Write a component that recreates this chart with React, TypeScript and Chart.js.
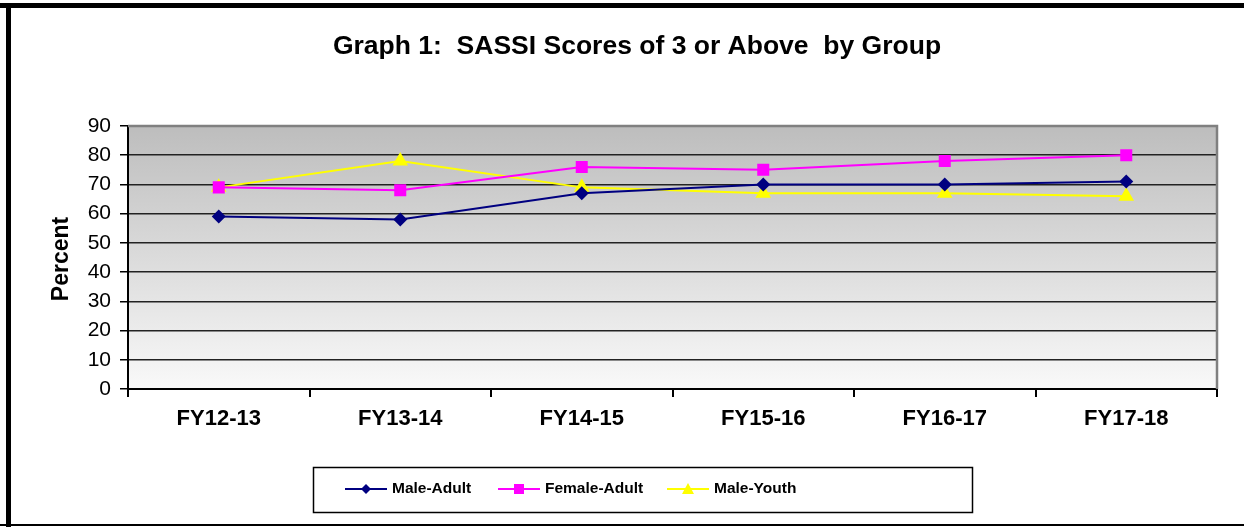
import React, { useEffect, useRef } from "react";
import { Chart, registerables } from "chart.js";

Chart.register(...registerables);

const categories = ["FY12-13", "FY13-14", "FY14-15", "FY15-16", "FY16-17", "FY17-18"];
const maleAdult = [59, 58, 67, 70, 70, 71];
const femaleAdult = [69, 68, 76, 75, 78, 80];
const maleYouth = [69, 78, 69, 67, 67, 66];
const titleText = "Graph 1:  SASSI Scores of 3 or Above  by Group";
const yTitle = "Percent";

const W = 1244;
const H = 527;
const FONT = "'Liberation Sans', Arial, sans-serif";

const decor = {
  id: "decor",
  beforeDraw(chart: any) {
    const { ctx, chartArea: a } = chart;
    ctx.save();
    ctx.fillStyle = "#ffffff";
    ctx.fillRect(0, 0, W, H);
    const g = ctx.createLinearGradient(0, a.top, 0, a.bottom);
    g.addColorStop(0, "#bdbdbd");
    g.addColorStop(1, "#f9f9f9");
    ctx.fillStyle = g;
    ctx.fillRect(a.left, a.top, a.right - a.left, a.bottom - a.top);
    ctx.restore();
  },
  afterDraw(chart: any) {
    const { ctx, chartArea: a } = chart;
    ctx.save();
    ctx.strokeStyle = "#808080";
    ctx.lineWidth = 2.5;
    ctx.beginPath();
    ctx.moveTo(a.left, a.top);
    ctx.lineTo(a.right, a.top);
    ctx.lineTo(a.right, a.bottom);
    ctx.stroke();
    ctx.fillStyle = "#000";
    ctx.fillRect(0, 3, W, 5);
    ctx.fillRect(6, 3, 5, H - 3);
    ctx.fillRect(0, 524, W, 2);
    ctx.fillStyle = "#000";
    ctx.font = `bold 26.5px ${FONT}`;
    ctx.textAlign = "center";
    ctx.textBaseline = "middle";
    ctx.fillText(titleText, 637, 47);
    ctx.save();
    ctx.translate(62, 259);
    ctx.rotate(-Math.PI / 2);
    ctx.font = `bold 23px ${FONT}`;
    ctx.fillText(yTitle, 0, 0);
    ctx.restore();
    ctx.strokeStyle = "#000";
    ctx.lineWidth = 1.5;
    ctx.strokeRect(313.5, 467.5, 659, 45);
    const items = chart.data.datasets.map((d: any, i: number) => ({
      label: d.label,
      color: d.borderColor,
      style: d.pointStyle,
      x: [345, 498, 667][i],
    }));
    ctx.font = `bold 15.5px ${FONT}`;
    ctx.textAlign = "left";
    const ly = 489;
    items.forEach((it: any) => {
      ctx.strokeStyle = it.color;
      ctx.lineWidth = 2;
      ctx.beginPath();
      ctx.moveTo(it.x, ly);
      ctx.lineTo(it.x + 42, ly);
      ctx.stroke();
      ctx.fillStyle = it.color;
      const cx = it.x + 21;
      ctx.beginPath();
      if (it.style === "rectRot") {
        ctx.moveTo(cx, ly - 5);
        ctx.lineTo(cx + 5, ly);
        ctx.lineTo(cx, ly + 5);
        ctx.lineTo(cx - 5, ly);
      } else if (it.style === "rect") {
        ctx.rect(cx - 5, ly - 5, 10, 10);
      } else {
        ctx.moveTo(cx, ly - 6);
        ctx.lineTo(cx + 6, ly + 5);
        ctx.lineTo(cx - 6, ly + 5);
      }
      ctx.closePath();
      ctx.fill();
      ctx.fillStyle = "#000";
      ctx.fillText(it.label, it.x + 47, ly);
    });
    ctx.restore();
  },
};

export default function App() {
  const ref = useRef<HTMLCanvasElement>(null);
  useEffect(() => {
    if (!ref.current) return;
    const chart = new Chart(ref.current, {
      type: "line",
      data: {
        labels: categories,
        datasets: [
          {
            label: "Male-Adult",
            data: maleAdult,
            borderColor: "#000080",
            backgroundColor: "#000080",
            borderWidth: 2,
            pointStyle: "rectRot",
            pointRadius: 7,
            pointBorderWidth: 0,
          },
          {
            label: "Female-Adult",
            data: femaleAdult,
            borderColor: "#ff00ff",
            backgroundColor: "#ff00ff",
            borderWidth: 2,
            pointStyle: "rect",
            pointRadius: 8.5,
            pointBorderWidth: 0,
          },
          {
            label: "Male-Youth",
            data: maleYouth,
            borderColor: "#ffff00",
            backgroundColor: "#ffff00",
            borderWidth: 2,
            pointStyle: "triangle",
            pointRadius: 9,
            pointBorderWidth: 0,
          },
        ],
      },
      plugins: [decor],
      options: {
        animation: false,
        responsive: false,
        devicePixelRatio: 1,
        layout: { padding: { top: 126, right: 27, left: 0, bottom: 78 } },
        plugins: {
          legend: { display: false },
          title: { display: false },
          tooltip: { enabled: false },
        },
        scales: {
          x: {
            type: "category",
            offset: true,
            afterFit: (s: any) => {
              s.height = 60;
            },
            grid: {
              offset: true,
              drawOnChartArea: false,
              drawTicks: true,
              tickLength: 8,
              color: "#000",
              lineWidth: 2,
            },
            border: { color: "#000", width: 2 },
            ticks: {
              color: "#000",
              padding: 9,
              font: { family: FONT, size: 22, weight: "bold" },
            },
          },
          y: {
            min: 0,
            max: 90,
            afterFit: (s: any) => {
              s.width = 128;
            },
            ticks: {
              stepSize: 10,
              color: "#000",
              padding: 9,
              font: { family: FONT, size: 21 },
            },
            grid: {
              color: (c: any) => (c.tick && c.tick.value === 90 ? "#808080" : "#222"),
              lineWidth: 1.5,
              tickLength: 8,
              tickColor: "#000",
            },
            border: { color: "#000", width: 2 },
          },
        },
      },
    });
    return () => chart.destroy();
  }, []);
  return (
    <div style={{ position: "fixed", left: 0, top: 0, width: W, height: H, background: "#fff" }}>
      <canvas ref={ref} width={W} height={H} style={{ width: W, height: H, display: "block" }} />
    </div>
  );
}
